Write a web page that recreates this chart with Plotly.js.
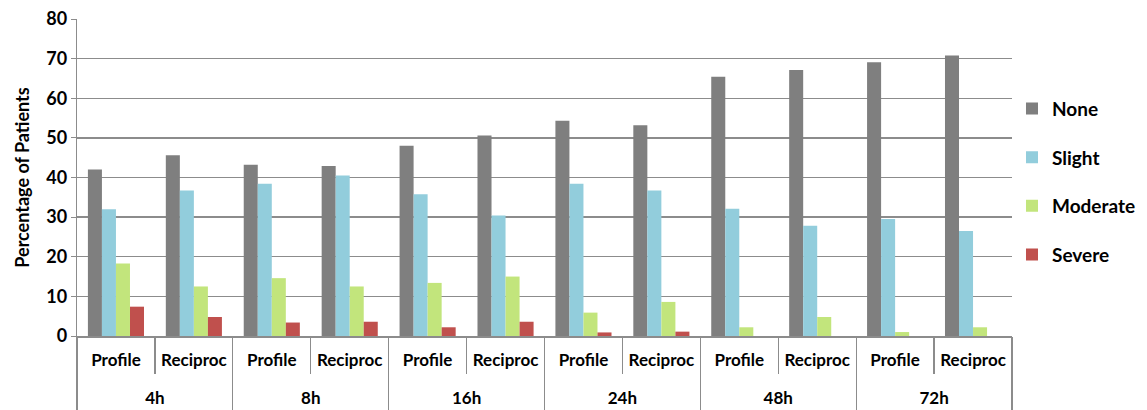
<!DOCTYPE html>
<html>
<head>
<meta charset="utf-8">
<script src="https://cdn.plot.ly/plotly-3.0.1.min.js"></script>
<style>html,body{margin:0;padding:0;background:#fff;}#chart{width:1147px;height:410px;}</style>
</head>
<body>
<div id="chart"></div>
<script>
const timepoints = ["4h","4h","8h","8h","16h","16h","24h","24h","48h","48h","72h","72h"];
const systems = ["Profile","Reciproc","Profile","Reciproc","Profile","Reciproc","Profile","Reciproc","Profile","Reciproc","Profile","Reciproc"];
const seriesNames = ["None","Slight","Moderate","Severe"];
const noneVals = [42.0,45.6,43.2,42.9,48.0,50.6,54.3,53.2,65.4,67.1,69.1,70.8];
const slightVals = [32.0,36.7,38.4,40.5,35.8,30.4,38.4,36.7,32.1,27.8,29.5,26.5];
const moderateVals = [18.3,12.5,14.6,12.5,13.4,15.0,5.9,8.6,2.2,4.8,1.0,2.2];
const severeVals = [7.4,4.8,3.4,3.6,2.2,3.6,0.9,1.1,0,0,0,0];
const colors = ["#7f7f7f","#92cddc","#c2e57c","#c0504d"];
const allVals = [noneVals, slightVals, moderateVals, severeVals];

// unique category keys built from the two label levels
const catKeys = timepoints.map((t,i)=>t+" "+systems[i]);
// outer groups
const groups = [...new Set(timepoints)];
const groupCenters = groups.map(g=>{
  const idx = timepoints.map((t,i)=>t===g?i:-1).filter(i=>i>=0);
  return (idx[0]+idx[idx.length-1])/2;
});

const FONT = "Lato, 'Open Sans', sans-serif";
const GRID = "#8c8c8c";
const traces = seriesNames.map((n,i)=>({
  type:"bar", name:n, x:catKeys, y:allVals[i],
  marker:{color:colors[i], line:{width:0}}, legendgroup:n
}));
// carrier (invisible) so the group-label axis is drawn
traces.push({type:"scatter", mode:"markers", x:groupCenters, y:groupCenters.map(()=>null),
  xaxis:"x2", yaxis:"y", showlegend:false, hoverinfo:"skip", marker:{opacity:0}});

const layout = {
  width:1147, height:410,
  margin:{l:77, r:131, t:19, b:74},
  paper_bgcolor:"#fff", plot_bgcolor:"#fff",
  barmode:"group", bargap:0.28, bargroupgap:0,
  font:{family:FONT, color:"#000", size:15},
  showlegend:true,
  legend:{xref:"container", x:0.8823, y:0.487, yanchor:"middle", xanchor:"left",
    font:{family:FONT, size:19, color:"#000", weight:"bold"},
    tracegroupgap:21, itemwidth:30},
  yaxis:{range:[0,80], dtick:10, showgrid:true, gridcolor:GRID, gridwidth:1.3,
    showline:true, linecolor:GRID, linewidth:1.3, ticks:"outside", ticklen:5, tickcolor:GRID,
    tickfont:{family:FONT, size:18, weight:"bold"}, zeroline:false,
    title:{text:"Percentage of Patients", font:{family:FONT, size:18, weight:"bold"}, standoff:12}},
  xaxis:{type:"category", range:[-0.5, catKeys.length-0.5], showline:true, linecolor:GRID, linewidth:1.5,
    tickmode:"array", tickvals:catKeys, ticktext:systems,
    ticks:"outside", tickson:"boundaries", ticklen:36, tickcolor:GRID, tickwidth:1.3,
    ticklabelstandoff:8,
    tickfont:{family:FONT, size:17, weight:"bold"}},
  xaxis2:{overlaying:"x", anchor:"y", side:"bottom", range:[-0.5, catKeys.length-0.5],
    showline:false, showgrid:false, zeroline:false,
    tickmode:"array", tickvals:groupCenters, ticktext:groups, ticks:"",
    minor:{tickmode:"linear", tick0:-0.5, dtick:2, ticks:"outside", ticklen:74, tickcolor:GRID, tickwidth:1.3, showgrid:false},
    ticklabelstandoff:50,
    tickfont:{family:FONT, size:17, weight:"bold"}}
};
Plotly.newPlot("chart", traces, layout, {displayModeBar:false, staticPlot:true});
</script>
</body>
</html>
